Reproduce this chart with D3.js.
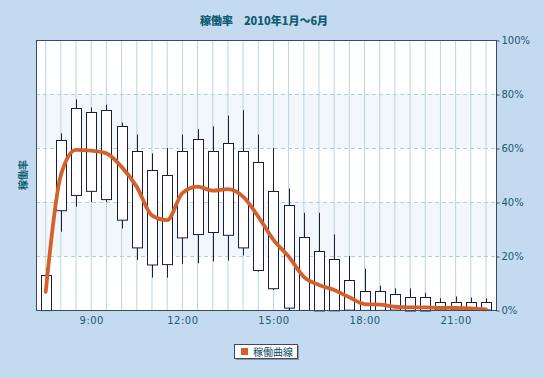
<!DOCTYPE html>
<html>
<head>
<meta charset="utf-8">
<script src="https://cdn.jsdelivr.net/npm/d3@7"></script>
<style>
  body { margin: 0; background: #c4daf0; }
  svg { display: block; }
</style>
</head>
<body>
<div id="chart"></div>
<script>
const times = ["7:30","8:00","8:30","9:00","9:30","10:00","10:30","11:00","11:30","12:00",
    "12:30","13:00","13:30","14:00","14:30","15:00","15:30","16:00","16:30","17:00",
    "17:30","18:00","18:30","19:00","19:30","20:00","20:30","21:00","21:30","22:00"];
const openVals = [0, 37, 42.8, 44, 41, 33.3, 23.3, 17, 17, 27,
    28, 29, 28, 23.3, 15, 8, 1, 0, 0, 0,
    0, 0, 0, 0, 0, 0, 0, 0, 0, 0];
const closeVals = [13, 63, 75, 73.2, 74, 68, 59, 52, 50, 59,
    63.2, 59, 62, 59, 55, 44, 39, 27, 22, 19,
    11, 7, 7, 5.8, 5, 5, 2.8, 2.8, 2.8, 2.8];
const highVals = [15.5, 65.4, 78, 75, 76, 69.4, 65, 58, 60, 65,
    67, 68, 72, 74, 65, 60, 45, 36, 36, 28,
    20, 15.3, 9, 8, 8, 6.4, 4.3, 5, 4.6, 4.3];
const lowVals = [0, 29, 38.3, 40, 40, 30.2, 18.5, 12, 12, 17,
    17.3, 18, 18.3, 20.2, 14.2, 7.4, 0, 0, 0, 0,
    0, 0, 0, 0, 0, 0, 0, 0, 0, 0];
const curveVals = [6.7, 50, 59.3, 59, 58, 53, 45.6, 35, 33.3, 43.3,
    45.7, 44.2, 44.8, 42, 34.6, 26, 19.8, 12.3, 9.3, 7.4,
    4.7, 2.2, 2, 1.2, 1, 1, 0.8, 0.8, 0.6, 0.2];
const xTickLabels = ["9:00", "12:00", "15:00", "18:00", "21:00"];
const yTicks = [0, 20, 40, 60, 80, 100];

const W = 544, H = 378;
const plot = { left: 36, top: 40, right: 496, bottom: 310 };

const svg = d3.select("#chart").append("svg")
    .attr("width", W).attr("height", H);

svg.append("rect").attr("width", W).attr("height", H).attr("fill", "#c4daf0");

const x = d3.scalePoint()
    .domain(times)
    .range([45.7, 486]);
const y = d3.scaleLinear()
    .domain([0, 100])
    .range([plot.bottom, plot.top]);

// plot background + alternating bands
svg.append("rect")
    .attr("x", plot.left).attr("y", plot.top)
    .attr("width", plot.right - plot.left).attr("height", plot.bottom - plot.top)
    .attr("fill", "#ffffff");
[[20, 40], [60, 80]].forEach(b => {
    svg.append("rect")
        .attr("x", plot.left).attr("y", y(b[1]))
        .attr("width", plot.right - plot.left).attr("height", y(b[0]) - y(b[1]))
        .attr("fill", "#f1f7fa");
});

// vertical grid
svg.append("g").selectAll("line")
    .data(times)
    .join("line")
    .attr("x1", d => x(d)).attr("x2", d => x(d))
    .attr("y1", plot.top).attr("y2", plot.bottom)
    .attr("stroke", "#bcd4df").attr("stroke-width", 1);

// horizontal dashed grid
svg.append("g").selectAll("line")
    .data(yTicks.filter(t => t > 0 && t < 100))
    .join("line")
    .attr("x1", plot.left).attr("x2", plot.right)
    .attr("y1", d => y(d) + 0.5).attr("y2", d => y(d) + 0.5)
    .attr("stroke", "#b3cddb").attr("stroke-dasharray", "4,3");

// candles
const candles = times.map((t, i) => ({
    t, open: openVals[i], close: closeVals[i], high: highVals[i], low: lowVals[i]
}));

svg.append("g").selectAll("line")
    .data(candles)
    .join("line")
    .attr("x1", d => Math.round(x(d.t)) + 0.5).attr("x2", d => Math.round(x(d.t)) + 0.5)
    .attr("y1", d => y(d.high)).attr("y2", d => y(d.low))
    .attr("stroke", "#1c1d3c").attr("stroke-width", 1);

svg.append("g").selectAll("rect")
    .data(candles)
    .join("rect")
    .attr("x", d => Math.round(x(d.t)) - 4.5)
    .attr("y", d => Math.round(y(Math.max(d.open, d.close))) + 0.5)
    .attr("width", 10)
    .attr("height", d => Math.abs(y(d.open) - y(d.close)))
    .attr("fill", "#ffffff")
    .attr("stroke", "#1c1d3c").attr("stroke-width", 1);

// smoothed curve
const line = d3.line()
    .x((d, i) => x(times[i]))
    .y(d => y(d))
    .curve(d3.curveMonotoneX);

svg.append("path")
    .datum(curveVals)
    .attr("d", line)
    .attr("fill", "none")
    .attr("stroke", "#d4602c")
    .attr("stroke-width", 3.8)
    .attr("stroke-linejoin", "round")
    .attr("stroke-linecap", "round");

// plot border
svg.append("rect")
    .attr("x", plot.left + 0.5).attr("y", plot.top + 0.5)
    .attr("width", plot.right - plot.left).attr("height", plot.bottom - plot.top)
    .attr("fill", "none").attr("stroke", "#3b4a5c");

// right axis
const yAxis = svg.append("g")
    .attr("transform", `translate(${plot.right + 0.5},0.5)`)
    .call(d3.axisRight(y).tickValues(yTicks).tickFormat(d => d + "%").tickSize(3).tickPadding(2));
yAxis.select(".domain").remove();
yAxis.selectAll(".tick line").attr("stroke", "#3b4a5c");
yAxis.selectAll("text")
    .attr("fill", "#1d5874")
    .style("font-family", "'DejaVu Sans', Verdana, sans-serif")
    .style("font-size", "10px");

// bottom axis labels
const xAxis = svg.append("g")
    .attr("transform", `translate(0,${plot.bottom})`)
    .call(d3.axisBottom(x).tickValues(xTickLabels).tickSize(0).tickPadding(7));
xAxis.select(".domain").remove();
xAxis.selectAll("text")
    .attr("fill", "#1d5874")
    .style("font-family", "'DejaVu Sans', Verdana, sans-serif")
    .style("font-size", "10px")
    .style("letter-spacing", "0.5px");

// title
svg.append("text")
    .attr("x", (plot.left + plot.right) / 2 - 2)
    .attr("y", 25)
    .attr("text-anchor", "middle")
    .attr("fill", "#0f5c70")
    .style("font-family", "'Noto Sans CJK JP', sans-serif")
    .style("font-weight", "900")
    .style("font-size", "11px")
    .text("稼働率　2010年1月～6月");

// y label
svg.append("text")
    .attr("transform", "translate(22,175) rotate(-90)")
    .attr("text-anchor", "middle")
    .attr("dominant-baseline", "central")
    .attr("fill", "#0f5c70")
    .style("font-family", "'Noto Sans CJK JP', sans-serif")
    .style("font-weight", "bold")
    .style("font-size", "10px")
    .text("稼働率");

// legend
const lg = svg.append("g").attr("transform", "translate(234,344)");
lg.append("rect").attr("x", 2).attr("y", 2).attr("width", 63).attr("height", 14).attr("fill", "#8a98a8");
lg.append("rect").attr("x", 0.5).attr("y", 0.5).attr("width", 63).attr("height", 14)
    .attr("fill", "#ffffff").attr("stroke", "#3b4a5c");
lg.append("rect").attr("x", 7).attr("y", 4).attr("width", 7).attr("height", 7).attr("fill", "#d4602c");
lg.append("text").attr("x", 19).attr("y", 11.5)
    .attr("fill", "#0f4a60")
    .style("font-family", "'Noto Sans CJK JP', sans-serif")
    .style("font-size", "10px")
    .text("稼働曲線");
</script>
</body>
</html>
